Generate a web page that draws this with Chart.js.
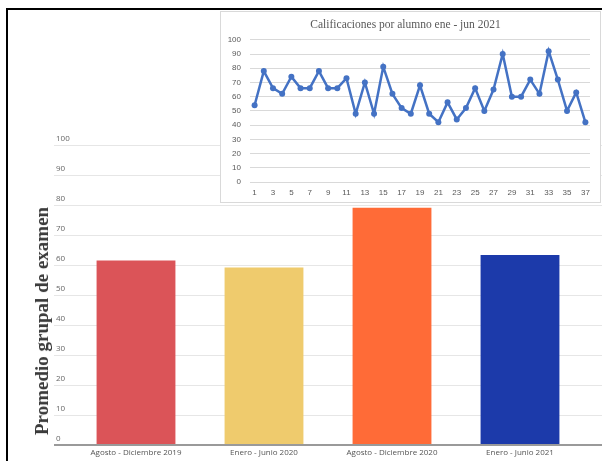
<!DOCTYPE html>
<html>
<head>
<meta charset="utf-8">
<script src="https://cdn.jsdelivr.net/npm/chart.js@4.4.0/dist/chart.umd.min.js"></script>
<style>
  body { margin: 0; background: #fff; width: 602px; height: 461px; overflow: hidden; position: relative; }
  #frame { position: absolute; left: 6px; top: 8px; right: 0; bottom: 0; border-left: 2px solid #000; border-top: 2px solid #000; }
  #barWrap { position: absolute; left: 0; top: 0; width: 602px; height: 461px; }
  #yTitle { position: absolute; left: 42px; top: 321px; transform: translate(-50%, -50%) rotate(-90deg); white-space: nowrap;
            font-family: "Liberation Serif", serif; font-weight: bold; font-size: 19px; color: #3a3a3a; }
  #inset { position: absolute; left: 220px; top: 11px; width: 379px; height: 190px; border: 1px solid #d9d9d9; background: #fff; }
</style>
</head>
<body>
<div id="frame"></div>
<div id="barWrap"><canvas id="barChart" width="602" height="461"></canvas></div>
<div id="yTitle">Promedio grupal de examen</div>
<div id="inset"><canvas id="lineChart" width="379" height="190"></canvas></div>
<script>
// semester averages (main chart)
const periodLabels = ['Agosto - Diciembre 2019', 'Enero - Junio 2020', 'Agosto - Diciembre 2020', 'Enero - Junio 2021'];
const periodAverages = [61.5, 59.2, 79.1, 63.3];
const periodColors = ['#db5458', '#efcb6d', '#ff6b37', '#1c3aaa'];

// grades per student ene - jun 2021 (inset)
const studentNumbers = [1, 2, 3, 4, 5, 6, 7, 8, 9, 10, 11, 12, 13, 14, 15, 16, 17, 18, 19,
  20, 21, 22, 23, 24, 25, 26, 27, 28, 29, 30, 31, 32, 33, 34, 35, 36, 37];
const studentGrades = [54, 78, 66, 62, 74, 66, 66, 78, 66, 66, 73, 48, 70, 48, 81, 62, 52, 48, 68,
  48, 42, 56, 44, 52, 66, 50, 65, 90, 60, 60, 72, 62, 92, 72, 50, 63, 42];

const gradeMin = 0;
const gradeMax = 100;
const gradeStep = 10;

const baseColor = (ctx) => ctx.tick && ctx.tick.value === 0 ? '#9a9a9a' : '#e6e6e6';
const baseWidth = (ctx) => ctx.tick && ctx.tick.value === 0 ? 2 : 1;

function drawBarChart(){
  return new Chart(document.getElementById('barChart'), {
    type: 'bar',
    data: {
      labels: periodLabels,
      datasets: [{
        data: periodAverages,
        backgroundColor: periodColors,
        barPercentage: 0.616,
        categoryPercentage: 1
      }]
    },
    options: {
      responsive: false,
      animation: false,
      layout: { padding: { left: 54, right: 0, top: 145, bottom: 0 } },
      plugins: { legend: { display: false }, tooltip: { enabled: false } },
      scales: {
        x: {
          grid: { display: false, drawTicks: false },
          border: { display: false },
          ticks: { color: '#555', font: { family: 'Open Sans', size: 8 }, padding: 3, maxRotation: 0 },
          afterFit: (s) => { s.height = 16 }
        },
        y: {
          min: gradeMin, max: gradeMax,
          ticks: { stepSize: gradeStep, mirror: true, padding: -16, labelOffset: -6, color: '#666', font: { family: 'Open Sans', size: 8 } },
          grid: { tickLength: 18, color: baseColor, lineWidth: baseWidth },
          border: { display: false },
          afterFit: (s) => { s.width = 18 }
        },
        // only used to carry the gridlines past the last bar on the right
        y2: {
          position: 'right',
          min: gradeMin, max: gradeMax,
          ticks: { display: false, stepSize: gradeStep },
          grid: { drawOnChartArea: false, tickLength: 18, color: baseColor, lineWidth: baseWidth },
          border: { display: false },
          afterFit: (s) => { s.width = 18 }
        }
      }
    }
  })
}

function drawLineChart(){
  return new Chart(document.getElementById('lineChart'), {
    type: 'line',
    data: {
      labels: studentNumbers,
      datasets: [{
        data: studentGrades,
        borderColor: '#4472c4',
        backgroundColor: '#4472c4',
        borderWidth: 2.5,
        pointRadius: 3,
        pointBorderWidth: 0,
        tension: 0
      }]
    },
    options: {
      responsive: false,
      animation: false,
      layout: { padding: { left: 0, right: 10, top: 0, bottom: 0 } },
      plugins: {
        legend: { display: false },
        tooltip: { enabled: false },
        title: {
          display: true,
          text: 'Calificaciones por alumno ene - jun 2021',
          color: '#595959',
          font: { family: 'Liberation Serif', size: 11.5, weight: 'normal' },
          padding: { top: 6, bottom: 8 }
        }
      },
      scales: {
        x: {
          offset: true,
          grid: { display: false, drawTicks: false },
          border: { display: false },
          ticks: {
            autoSkip: false, maxRotation: 0, color: '#595959', padding: 6,
            font: { family: 'Liberation Sans', size: 8 },
            callback: (v, i) => i % 2 === 0 ? studentNumbers[i] : ''
          },
          afterFit: (s) => { s.height = 20 }
        },
        y: {
          min: gradeMin, max: gradeMax,
          ticks: { stepSize: gradeStep, color: '#595959', padding: 9, font: { family: 'Liberation Sans', size: 8 } },
          grid: { color: '#d9d9d9', drawTicks: false },
          border: { display: false },
          afterFit: (s) => { s.width = 29 }
        }
      }
    }
  })
}

drawBarChart()
drawLineChart()
</script>
</body>
</html>
